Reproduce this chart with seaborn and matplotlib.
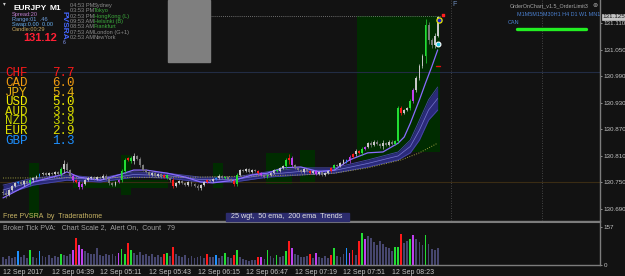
import numpy as np
import matplotlib
matplotlib.use("Agg")
import matplotlib.pyplot as plt
from matplotlib.patches import Rectangle
import seaborn as sns

# ---- values (EURJPY M1, one entry per bar) ----
first_open = 130.729
closes = [
    130.726, 130.722, 130.733, 130.742, 130.749, 130.751, 130.746, 130.753, 130.749, 130.755,
    130.760, 130.765, 130.769, 130.771, 130.767, 130.771, 130.769, 130.774, 130.769, 130.780,
    130.792, 130.778, 130.765, 130.755, 130.751, 130.740, 130.746, 130.755, 130.760, 130.762,
    130.758, 130.762, 130.760, 130.765, 130.758, 130.749, 130.744, 130.751, 130.755, 130.776,
    130.801, 130.805, 130.798, 130.810, 130.803, 130.789, 130.778, 130.774, 130.767, 130.771,
    130.765, 130.769, 130.762, 130.767, 130.760, 130.755, 130.742, 130.749, 130.753, 130.749,
    130.744, 130.751, 130.746, 130.742, 130.737, 130.744, 130.751, 130.755, 130.753, 130.758,
    130.760, 130.765, 130.760, 130.762, 130.758, 130.753, 130.746, 130.767, 130.778, 130.776,
    130.780, 130.774, 130.778, 130.776, 130.771, 130.767, 130.762, 130.767, 130.771, 130.778,
    130.776, 130.783, 130.787, 130.801, 130.805, 130.789, 130.783, 130.778, 130.774, 130.780,
    130.776, 130.771, 130.776, 130.769, 130.774, 130.767, 130.771, 130.776, 130.783, 130.789,
    130.787, 130.794, 130.801, 130.798, 130.808, 130.814, 130.821, 130.817, 130.826, 130.830,
    130.839, 130.835, 130.842, 130.837, 130.832, 130.839, 130.835, 130.842, 130.837, 130.844,
    130.918, 130.907, 130.914, 130.918, 130.934, 130.959, 130.986, 131.014, 131.036, 131.106,
    131.072, 131.061, 131.082, 131.124]
# wick length beyond the body, in points (0.001)
wicks = [
    4, 7, 3, 3, 2, 3, 2, 3, 2, 4,
    3, 2, 3, 2, 3, 2, 3, 2, 3, 4,
    8, 4, 3, 3, 3, 4, 4, 2, 2, 3,
    2, 3, 2, 3, 3, 4, 3, 2, 3, 4,
    5, 3, 4, 6, 3, 4, 3, 2, 3, 2,
    3, 2, 3, 2, 3, 3, 5, 3, 2, 3,
    3, 2, 3, 3, 4, 3, 2, 3, 2, 3,
    2, 3, 2, 2, 3, 3, 4, 4, 3, 2,
    3, 2, 3, 2, 3, 3, 2, 3, 2, 3,
    2, 3, 3, 5, 9, 4, 3, 2, 3, 2,
    3, 2, 3, 2, 3, 2, 3, 2, 3, 3,
    3, 2, 3, 3, 3, 3, 4, 3, 4, 3,
    3, 5, 3, 3, 3, 6, 3, 3, 3, 3,
    4, 5, 3, 3, 4, 5, 5, 5, 4, 15,
    8, 6, 6, 3]
volumes = [
    30, 25, 35, 28, 32, 56, 30, 38, 27, 60,
    33, 29, 55, 35, 30, 40, 28, 36, 31, 42,
    38, 34, 45, 60, 111, 80, 65, 55, 48, 42,
    45, 70, 40, 35, 44, 38, 42, 36, 50, 65,
    45, 90, 60, 48, 40, 52, 38, 45, 36, 42,
    30, 38, 33, 45, 50, 35, 72, 44, 36, 30,
    38, 28, 34, 26, 31, 36, 29, 42, 30, 33,
    40, 28, 35, 50, 32, 27, 38, 60, 30, 22,
    18, 15, 20, 17, 30, 30, 25, 60, 35, 28,
    40, 32, 36, 55, 99, 70, 45, 38, 33, 30,
    36, 42, 28, 50, 30, 26, 34, 29, 40, 68,
    35, 30, 42, 68, 50, 62, 40, 97, 133, 105,
    118, 112, 95, 80, 98, 88, 75, 68, 55, 75,
    75, 127, 90, 100, 108, 123, 105, 95, 80, 125,
    85, 65, 60, 70]
# PVSRA coloured bars (index -> kind)
special = {5: "b", 9: "g", 12: "b", 19: "g", 23: "m", 24: "r", 25: "m", 26: "m",
           38: "m", 39: "g", 40: "g", 41: "r", 42: "g", 53: "r", 54: "g", 56: "r",
           67: "r", 70: "b", 73: "g", 76: "r", 77: "g", 84: "r", 85: "m", 87: "g",
           90: "g", 93: "g", 94: "r", 95: "m", 101: "r", 103: "m", 108: "r", 109: "g",
           113: "b", 114: "m", 115: "r", 117: "r", 118: "g", 119: "m", 129: "g",
           130: "g", 131: "r", 134: "g", 135: "m", 139: "g"}

time_ticks = [0, 16, 32, 48, 64, 80, 96, 112, 128]
time_labels = ["12 Sep 2017", "12 Sep 04:39", "12 Sep 05:11", "12 Sep 05:43", "12 Sep 06:15",
               "12 Sep 06:47", "12 Sep 07:19", "12 Sep 07:51", "12 Sep 08:23"]
price_ticks = [130.690, 130.750, 130.810, 130.870, 130.930, 130.990, 131.050, 131.110]
vol_ticks = [0, 157]

# 25 wgt line
wgt_x = [0, 10, 19, 21, 25, 32, 38, 43, 47, 54, 60, 65, 69, 76, 82, 87, 92, 98,
         104, 109, 114, 120, 125, 130, 132, 134, 137, 139, 141, 143]
wgt_y = [130.715, 130.751, 130.767, 130.774, 130.762, 130.755, 130.767, 130.778, 130.778,
         130.771, 130.762, 130.751, 130.749, 130.755, 130.767, 130.771, 130.783, 130.785,
         130.774, 130.778, 130.801, 130.817, 130.819, 130.839, 130.853, 130.884, 130.937,
         130.975, 131.011, 131.050]
# 50 ema band
band_x = [0, 10, 21, 32, 43, 54, 65, 76, 87, 98, 109, 120, 130, 134, 137, 140, 143]
band_hi = [130.744, 130.760, 130.767, 130.760, 130.774, 130.771, 130.762, 130.762, 130.774,
           130.783, 130.783, 130.801, 130.819, 130.846, 130.891, 130.937, 130.966]
band_lo = [130.722, 130.744, 130.755, 130.751, 130.762, 130.760, 130.751, 130.751, 130.762,
           130.767, 130.771, 130.785, 130.801, 130.817, 130.846, 130.891, 130.914]
# 200 ema (dotted)
ema200_x = [0, 32, 65, 98, 109, 120, 131, 137, 143]
ema200_y = [130.760, 130.761, 130.762, 130.767, 130.771, 130.783, 130.801, 130.817, 130.839]

# PVSRA zones
zone_start = [8.6, 23.0, 38.8, 69.0, 86.5, 97.7, 116.4, 116.4]
zone_end = [11.8, 54.3, 42.1, 72.4, 95.0, 102.6, 143.8, 130.6]
zone_top = [130.794, 130.755, 130.812, 130.794, 130.817, 130.823, 131.127, 130.819]
zone_bottom = [130.671, 130.737, 130.722, 130.737, 130.746, 130.749, 130.819, 130.801]

currencies = ["CHF", "CAD", "JPY", "USD", "AUD", "NZD", "EUR", "GBP"]
strength = [7.7, 6.0, 5.4, 5.0, 3.9, 3.9, 2.9, 1.3]
cur_colors = ["#ff1a1a", "#f09a10", "#e8b010", "#f0ec00", "#d8d800", "#c8d400", "#e0e000", "#1e90ff"]

session_times = ["04:53 PM", "03:53 PM", "02:53 PM", "09:53 AM", "08:53 AM", "07:53 AM", "02:53 AM"]
session_names = ["Sydney", "Tokyo", "HongKong (L)", "Helsinki (B)", "Frankfurt", "London (G+1)", "NewYork"]
session_open = [False, True, True, True, True, False, False]

bid_price = 131.125

# ---- styling ----
W, H = 625, 276
bg = "#121212"
grey = "#7c7c7c"
txt = "#c4c4c4"
kind_col = {"g": "#22dd33", "r": "#ff1a1a", "b": "#1e90ff", "m": "#c040f0"}

sns.set_style("dark", {"axes.facecolor": bg, "figure.facecolor": bg})
plt.rcParams["font.family"] = ["Liberation Sans", "DejaVu Sans"]


def fx(x):
    return x / W


def fy(y):
    return 1 - y / H


fig = plt.figure(figsize=(6.25, 2.76), dpi=100, facecolor=bg)
ax = fig.add_axes([0, fy(221), fx(600), 221 / H])
axv = fig.add_axes([0, fy(265), fx(600), 43 / H])

n = len(closes)
idx = np.arange(n)
c = np.array(closes)
o = np.concatenate([[first_open], c[:-1]])
w = np.array(wicks) * 0.001
hi = np.maximum(o, c) + w
lo = np.minimum(o, c) - w

cols = []
vcols = []
for i in range(n):
    if i in special:
        cols.append(kind_col[special[i]])
        vcols.append(kind_col[special[i]])
    else:
        cols.append("#c8c8c8" if c[i] >= o[i] else "#7a7a7a")
        vcols.append("#46466e")

# zones
zs = np.array(zone_start)
ze = np.array(zone_end)
ax.bar((zs + ze) / 2, np.array(zone_top) - np.array(zone_bottom), bottom=zone_bottom,
       width=ze - zs, color="#002c00", lw=0, edgecolor="none", zorder=0.5)

# horizontal lines
ax.axhline(131.000, color="#222c44", lw=0.8, zorder=0.6)
ax.axhline(130.750, color="#3a2c14", lw=0.8, zorder=0.6)
ax.hlines(bid_price + 0.002, 68, 143.8, colors="#8a8a8a", lw=0.6, linestyles=(0, (1, 1.5)), zorder=0.7)
for xv in [147.4, 177.3]:
    ax.axvline(xv, color="#555555", lw=0.6, ls=(0, (1, 2)), zorder=0.6)

# band
bl = np.array(band_lo)
bh = np.array(band_hi)
ax.fill_between(band_x, bl, bh, color="#2a2a7a", lw=0, zorder=1)
sns.lineplot(x=band_x, y=bh, ax=ax, color="#4848a8", lw=0.6, zorder=1.1)
sns.lineplot(x=band_x, y=bl, ax=ax, color="#4848a8", lw=0.6, zorder=1.1)
sns.lineplot(x=band_x, y=(bl + bh) / 2, ax=ax, color="#7878d0", lw=0.5, zorder=1.1)
sns.lineplot(x=ema200_x, y=ema200_y, ax=ax, color="#a0a040", lw=0.7, ls=(0, (1, 1.5)), zorder=1.2)
sns.lineplot(x=wgt_x, y=wgt_y, ax=ax, color="#8a6cff", lw=0.9, zorder=2.5)

# candles
ax.vlines(idx, lo, hi, colors=cols, lw=0.5, zorder=3)
body = np.maximum(np.abs(c - o), 0.0009)
ax.bar(idx, body, bottom=np.minimum(o, c), width=0.62, color=cols, lw=0, edgecolor="none", zorder=3.1)

# markers at the last bar
ax.plot([142.4, 143.6], [131.013, 131.013], color="#e01010", lw=1.0, zorder=4)
ax.scatter([143.4], [131.118], s=14, c="#1a1ad0", edgecolors="#e8e800", linewidths=0.9, zorder=5)
ax.scatter([143.1], [131.063], s=12, c="#20c8e8", edgecolors="#ffffff", linewidths=0.8, zorder=5)
ax.scatter([144.8], [131.130], s=3, c="#ff2020", marker="s", zorder=5)

# volume panel
axv.bar(idx, volumes, width=0.6, color=vcols, lw=0, edgecolor="none")

xl = (-0.99, 196.4)
ax.set_xlim(xl)
axv.set_xlim(xl)
ax.set_ylim(130.6627, 131.163)
axv.set_ylim(-2, 178)

for a in (ax, axv):
    a.set_facecolor(bg)
    a.grid(False)
    a.set_xlabel("")
    a.set_ylabel("")
    for s in ["top", "left"]:
        a.spines[s].set_visible(False)
    for s in ["right", "bottom"]:
        a.spines[s].set_color(grey)
        a.spines[s].set_linewidth(1.0)
    a.yaxis.tick_right()
    a.tick_params(axis="y", right=True, left=False, labelright=True, labelleft=False,
                  length=1.5, pad=1, labelsize=4.5, colors=txt, width=0.5)
axv.spines["top"].set_visible(True)
axv.spines["top"].set_color(grey)

ax.set_yticks(price_ticks)
ax.set_yticklabels([f"{p:.3f}" for p in price_ticks])
ax.tick_params(axis="x", bottom=False, labelbottom=False)
axv.set_yticks(vol_ticks)
axv.set_yticklabels([str(v) for v in vol_ticks])
axv.set_xticks(time_ticks)
axv.set_xticklabels(time_labels)
axv.tick_params(axis="x", length=2, pad=1.2, labelsize=5, colors=txt, width=0.5)
for lbl in axv.get_xticklabels():
    lbl.set_ha("left")

# ---- overlay texts ----
fig.patches.append(Rectangle((fx(168), fy(62)), fx(42), 62 / H, transform=fig.transFigure,
                             color="#7f7f7f", zorder=1))
fig.text(fx(3), fy(4), "\u25be", fontsize=4, color="#d0d0d0", va="center")
fig.text(fx(13), fy(8.5), "EURJPY", fontsize=6, color="white", weight="bold", va="center")
fig.text(fx(50), fy(8.5), "M1", fontsize=6, color="white", weight="bold", va="center")
fig.text(fx(12), fy(14.5), "Spread:20", fontsize=4.1, color="#c080d0", va="center")
fig.text(fx(12), fy(19.5), "Range:01  .46", fontsize=4.1, color="#6fa0e0", va="center")
fig.text(fx(12), fy(24.5), "Swap:0.00  0.00", fontsize=4.1, color="#68b0f0", va="center")
fig.text(fx(12), fy(29.5), "Candle:00:29", fontsize=4.1, color="#c8a860", va="center")
fig.text(fx(23), fy(38), "131.12", fontsize=8, color="#ff2035", weight="bold", va="center")
fig.text(fx(64), fy(25), "PVSRA", fontsize=6, color="#4466ff", weight="bold",
         rotation=-90, ha="center", va="center")
fig.text(fx(64), fy(43), "6", fontsize=3.6, color="#8aa0ff", ha="center", va="center")

for k in range(len(session_times)):
    yy = 5.3 + 5.4 * k
    fig.text(fx(70), fy(yy), session_times[k], fontsize=4.1, color="#8c8c8c", va="center")
    fig.text(fx(94), fy(yy), session_names[k], fontsize=4.1,
             color="#3caa3c" if session_open[k] else "#8c8c8c", va="center")

for k in range(len(currencies)):
    yy = 73.3 + 9.6 * k
    fig.text(fx(5), fy(yy), currencies[k], fontsize=9, family="Liberation Mono",
             color=cur_colors[k], va="center")
    fig.text(fx(52), fy(yy), f"{strength[k]:.1f}", fontsize=9, family="Liberation Mono",
             color=cur_colors[k], va="center")

fig.text(fx(452), fy(5), "F", fontsize=5, color="#7090c0", va="center")
fig.text(fx(510), fy(5.5), "OrderOnChart_v1.5_OrderLimit3", fontsize=3.9, color="#a8a8a8", va="center")
fig.text(fx(592), fy(5.5), "\u2297", fontsize=4.5, color="#a8a8a8", va="center")
fig.text(fx(517), fy(15), "M1M5M15M30H1 H4 D1 W1 MN1", fontsize=3.9, color="#4a80d0", va="center")
fig.text(fx(508), fy(23), "CAN", fontsize=4, color="#4a80d0", va="center")
fig.lines.append(plt.Line2D([fx(517), fx(586)], [fy(28.5), fy(28.5)], transform=fig.transFigure,
                            color="#22ee22", lw=2.4, zorder=3))
fig.text(fx(602), fy(16.5), f"{bid_price:.3f}", fontsize=4.5, color="#151515", va="center", zorder=6,
         bbox=dict(boxstyle="square,pad=0.08", fc="#c4c4c4", ec="#e0e0e0", lw=0.4))

fig.text(fx(3), fy(216), "Free PVSRA  by  Traderathome", fontsize=5, color="#c8b464", va="center")
fig.patches.append(Rectangle((fx(226), fy(221)), fx(123), 8 / H, transform=fig.transFigure,
                             color="#2c2c6e", zorder=2))
fig.text(fx(287), fy(217), "25 wgt,  50 ema,  200 ema  Trends", fontsize=5.2, color="#e0e0e0",
         ha="center", va="center", zorder=3)
fig.text(fx(3), fy(227.5), "Broker Tick PVA:   Chart Scale 2,  Alert On,  Count   79", fontsize=5,
         color="#a0a0a0", va="center")

fig.savefig("out.png", dpi=100, facecolor=bg)
